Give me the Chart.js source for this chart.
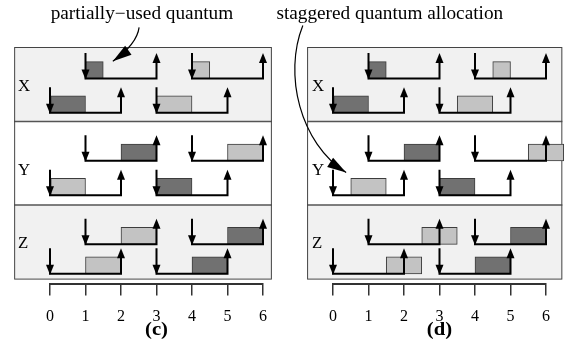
<!DOCTYPE html>
<html><head><meta charset="utf-8">
<script src="https://cdn.jsdelivr.net/npm/chart.js@4.4.1/dist/chart.umd.min.js"></script>
<style>
html,body{margin:0;padding:0;background:#fff;width:565px;height:353px;overflow:hidden;}
#wrap{position:relative;width:565px;height:353px;}
canvas{position:absolute;top:0;}
#cc{left:0;}
#cd{left:262px;}
</style></head><body>
<div id="wrap"><canvas id="cc" width="282" height="353"></canvas><canvas id="cd" width="303" height="353"></canvas></div>
<script>
// ---------- data ----------
const rowNames = ['X', 'Y', 'Z'];
const tickValues = [0, 1, 2, 3, 4, 5, 6];

// jobs: row, lane (0 = upper, 1 = lower), release, deadline, executed interval, shade
const jobRow      = ['X','X','X','X', 'Y','Y','Y','Y', 'Z','Z','Z','Z'];
const jobLane     = [0, 0, 1, 1,  0, 0, 1, 1,  0, 0, 1, 1];
const jobRelease  = [1, 4, 0, 3,  1, 4, 0, 3,  1, 4, 0, 3];
const jobDeadline = [3, 6, 2, 5,  3, 6, 2, 5,  3, 6, 2, 5];
const jobShade    = ['dark','light','dark','light', 'dark','light','light','dark', 'light','dark','light','dark'];

// panel (c): quantum allocation on integer boundaries
const cExecStart = [1, 4, 0, 3,   2, 5, 0, 3,   2, 5, 1, 4];
const cExecEnd   = [1.5, 4.5, 1, 4,   3, 6, 1, 4,   3, 6, 2, 5];
// panel (d): staggered quantum allocation
const dExecStart = [1, 4.5, 0, 3.5,   2, 5.5, 0.5, 3,   2.5, 5, 1.5, 4];
const dExecEnd   = [1.5, 5, 1, 4.5,   3, 6.5, 1.5, 4,   3.5, 6, 2.5, 5];

// ---------- layout (vertical units, box top = 0, reversed) ----------
const FONT = '"Liberation Serif", "Times New Roman", serif';
const LAYOUT = {
  rowBounds: [[0, 7.6], [7.6, 16.1], [16.1, 23.6]],
  laneBase: [[3.2, 6.7], [11.6, 15.1], [20.1, 23.1]],
  labelY: [4.1, 12.6, 20.1],
  arrowLen: 2.6,
  barH: 1.7,
  yMax: 24.1,
  titleY: 28.85,
  noteY: -3.3
};
const SHADE = { dark: '#717171', light: '#c3c3c3' };

function makePanel(canvasId, p) {
  const base = i => LAYOUT.laneBase[rowNames.indexOf(jobRow[i])][jobLane[i]];
  const barData = p.execStart.map((s, i) => ({ x: [s, p.execEnd[i]], y: base(i) - LAYOUT.barH / 2 }));
  const bars = {
    type: 'bar', indexAxis: 'y', data: barData,
    backgroundColor: jobShade.map(s => SHADE[s]),
    borderColor: '#3c3c3c', borderWidth: 1, borderSkipped: false,
    barThickness: 17, order: 5, clip: false
  };
  const lines = jobRelease.map((r, i) => ({
    type: 'line',
    data: [
      { x: r, y: base(i) - LAYOUT.arrowLen },
      { x: r, y: base(i) },
      { x: jobDeadline[i], y: base(i) },
      { x: jobDeadline[i], y: base(i) - LAYOUT.arrowLen + 0.5 }
    ],
    borderColor: '#000', borderWidth: 2, pointRadius: 0, fill: false, tension: 0,
    borderJoinStyle: 'miter', order: 0, clip: false
  }));

  const stretchedText = (ctx, text, px, py, sx) => {
    ctx.save(); ctx.translate(px, py); ctx.scale(sx, 1); ctx.fillText(text, 0, 0); ctx.restore();
  };

  const panelPlugin = {
    id: 'panel',
    beforeDatasetsDraw(chart) {
      const { ctx, scales: { x, y } } = chart;
      const L = x.getPixelForValue(p.boxLeft), R = x.getPixelForValue(p.boxRight);
      ctx.save();
      LAYOUT.rowBounds.forEach(([t, b], i) => {
        const T = y.getPixelForValue(t), B = y.getPixelForValue(b);
        ctx.fillStyle = i === 1 ? '#ffffff' : '#f1f1f1';
        ctx.fillRect(L, T, R - L, B - T);
      });
      ctx.strokeStyle = '#555'; ctx.lineWidth = 1.5;
      [LAYOUT.rowBounds[1][0], LAYOUT.rowBounds[2][0]].forEach(v => {
        const Y = y.getPixelForValue(v);
        ctx.beginPath(); ctx.moveTo(L, Y); ctx.lineTo(R, Y); ctx.stroke();
      });
      ctx.strokeStyle = '#444'; ctx.lineWidth = 1;
      const T0 = y.getPixelForValue(LAYOUT.rowBounds[0][0]), B0 = y.getPixelForValue(LAYOUT.rowBounds[2][1]);
      ctx.strokeRect(L + 0.5, T0 + 0.5, R - L - 1, B0 - T0);
      ctx.fillStyle = '#000'; ctx.font = '16px ' + FONT;
      ctx.textAlign = 'left'; ctx.textBaseline = 'middle';
      rowNames.forEach((n, i) => stretchedText(ctx, n, x.getPixelForValue(p.labelX), y.getPixelForValue(LAYOUT.labelY[i]), 1.05));
      ctx.restore();
    },
    afterDatasetsDraw(chart) {
      const { ctx, scales: { x, y } } = chart;
      ctx.save();
      ctx.fillStyle = '#000';
      jobRelease.forEach((r, i) => {
        const bx = x.getPixelForValue(r), by = y.getPixelForValue(base(i)) + 1;
        ctx.beginPath(); ctx.moveTo(bx - 4, by - 10); ctx.lineTo(bx + 4, by - 10); ctx.lineTo(bx, by); ctx.closePath(); ctx.fill();
        const dx = x.getPixelForValue(jobDeadline[i]), dy = y.getPixelForValue(base(i) - LAYOUT.arrowLen);
        ctx.beginPath(); ctx.moveTo(dx - 4, dy + 10); ctx.lineTo(dx + 4, dy + 10); ctx.lineTo(dx, dy); ctx.closePath(); ctx.fill();
      });
      ctx.restore();
    },
    afterDraw(chart) {
      const { ctx, scales: { x, y } } = chart;
      const P = pt => [x.getPixelForValue(pt[0]), y.getPixelForValue(pt[1])];
      ctx.save();
      ctx.fillStyle = '#000';
      ctx.font = 'bold 18px ' + FONT; ctx.textAlign = 'center'; ctx.textBaseline = 'middle';
      stretchedText(ctx, p.title, x.getPixelForValue(3), y.getPixelForValue(LAYOUT.titleY), 1.15);
      ctx.font = '18px ' + FONT;
      const [tx, ty] = P(p.note.at);
      stretchedText(ctx, p.note.text, tx, ty, 1.07);
      // curved pointer
      const pts = p.note.path.map(P);
      ctx.strokeStyle = '#000'; ctx.lineWidth = 1.2;
      ctx.beginPath(); ctx.moveTo(pts[0][0], pts[0][1]);
      if (pts.length === 3) ctx.quadraticCurveTo(pts[1][0], pts[1][1], pts[2][0], pts[2][1]);
      else ctx.bezierCurveTo(pts[1][0], pts[1][1], pts[2][0], pts[2][1], pts[3][0], pts[3][1]);
      ctx.stroke();
      const e = pts[pts.length - 1], c = pts[pts.length - 2];
      const ang = Math.atan2(e[1] - c[1], e[0] - c[0]);
      const hl = 19, hw = 5.5;
      ctx.beginPath();
      ctx.moveTo(e[0], e[1]);
      ctx.lineTo(e[0] - hl * Math.cos(ang) + hw * Math.sin(ang), e[1] - hl * Math.sin(ang) - hw * Math.cos(ang));
      ctx.lineTo(e[0] - hl * Math.cos(ang) - hw * Math.sin(ang), e[1] - hl * Math.sin(ang) + hw * Math.cos(ang));
      ctx.closePath(); ctx.fill();
      ctx.restore();
    }
  };

  return new Chart(document.getElementById(canvasId), {
    type: 'line',
    data: { datasets: [bars, ...lines] },
    options: {
      responsive: false, animation: false, events: [],
      layout: { padding: { top: 47, left: p.padLeft, right: 19, bottom: 15.3 } },
      plugins: { legend: { display: false }, tooltip: { enabled: false } },
      scales: {
        x: {
          type: 'linear', min: 0, max: 6, offset: false,
          afterBuildTicks: s => { s.ticks = tickValues.map(v => ({ value: v })); },
          grid: { drawOnChartArea: false, drawTicks: true, tickLength: 12, color: '#333', lineWidth: 1.5, offset: false },
          border: { display: true, color: '#333', width: 2 },
          ticks: { font: { family: FONT, size: 16 }, color: '#000', padding: 11.5, maxRotation: 0, autoSkip: false }
        },
        y: { type: 'linear', display: false, reverse: true, min: 0, max: LAYOUT.yMax, offset: false }
      }
    },
    plugins: [panelPlugin]
  });
}

makePanel('cc', {
  execStart: cExecStart, execEnd: cExecEnd, title: '(c)',
  boxLeft: -1.01, boxRight: 6.25, labelX: -0.9, padLeft: 50,
  note: { text: 'partially\u2212used quantum', at: [2.59, LAYOUT.noteY],
          path: [[2.51, -2.0], [2.45, -0.3], [1.77, 1.45]] }
});
makePanel('cd', {
  execStart: dExecStart, execEnd: dExecEnd, title: '(d)',
  boxLeft: -0.73, boxRight: 6.46, labelX: -0.59, padLeft: 71,
  note: { text: 'staggered quantum allocation', at: [1.6, LAYOUT.noteY],
          path: [[-0.85, -2.2], [-1.4, 2.8], [-0.93, 9.8], [0.37, 12.8]] }
});
</script>
</body></html>
